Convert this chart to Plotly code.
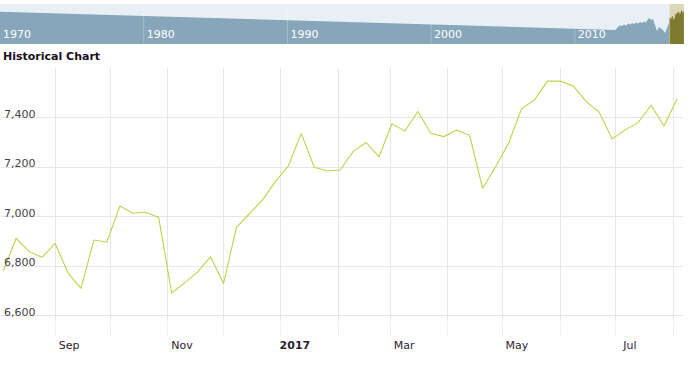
import plotly.graph_objects as go

# ---- main series (weekly closes) ----
week_dates = [
    "2016-08-04", "2016-08-11", "2016-08-18", "2016-08-25",
    "2016-09-01", "2016-09-08", "2016-09-15", "2016-09-22", "2016-09-29",
    "2016-10-06", "2016-10-13", "2016-10-20", "2016-10-27",
    "2016-11-03", "2016-11-10", "2016-11-17", "2016-11-24",
    "2016-12-01", "2016-12-08", "2016-12-15", "2016-12-22", "2016-12-29",
    "2017-01-05", "2017-01-12", "2017-01-19", "2017-01-26",
    "2017-02-02", "2017-02-09", "2017-02-16", "2017-02-23",
    "2017-03-02", "2017-03-09", "2017-03-16", "2017-03-23", "2017-03-30",
    "2017-04-06", "2017-04-13", "2017-04-20", "2017-04-27",
    "2017-05-04", "2017-05-11", "2017-05-18", "2017-05-25",
    "2017-06-01", "2017-06-08", "2017-06-15", "2017-06-22", "2017-06-29",
    "2017-07-06", "2017-07-13", "2017-07-20", "2017-07-27",
    "2017-08-03",
]
week_values = [
    6781, 6913, 6859, 6836,
    6892, 6773, 6711, 6906, 6898,
    7043, 7014, 7018, 6997,
    6692, 6733, 6777, 6838,
    6730, 6957, 7011, 7067, 7141,
    7205, 7337, 7200, 7185,
    7189, 7263, 7300, 7243,
    7376, 7346, 7425, 7337, 7324,
    7350, 7329, 7115, 7202,
    7296, 7436, 7472, 7548,
    7548, 7528, 7465, 7422, 7314,
    7351, 7380, 7451, 7367,
    7476,
]

# ---- navigator history (long-range overview) ----
nav_dates = [
    "1970-01-01", "2012-10-20", "2013-01-03", "2013-02-23", "2013-04-15",
    "2013-06-04", "2013-07-25", "2013-09-14", "2013-11-03", "2013-12-24",
    "2014-02-13", "2014-04-05", "2014-05-26", "2014-07-15", "2014-09-04",
    "2014-10-25", "2014-12-14", "2015-02-03", "2015-03-13", "2015-04-20",
    "2015-06-10", "2015-07-31", "2015-09-20", "2015-11-09", "2015-12-30",
    "2016-02-19", "2016-04-11", "2016-06-01", "2016-07-21",
]
nav_values = [
    7402, 5836, 6093, 6221, 6178,
    6307, 6221, 6392, 6307, 6435,
    6350, 6478, 6392, 6521, 6435,
    6564, 6478, 6778, 6863, 6692,
    6778, 6350, 5750, 6093, 5964,
    5836, 5579, 6093, 6435,
]

# ---- axis ticks ----
month_ticks = [
    "2016-09-01", "2016-10-01", "2016-11-01", "2016-12-01", "2017-01-01",
    "2017-02-01", "2017-03-01", "2017-04-01", "2017-05-01", "2017-06-01",
    "2017-07-01", "2017-08-01",
]
month_labels = ["Sep", "", "Nov", "", "<b>2017</b>", "", "Mar", "", "May", "", "Jul", ""]
y_ticks = [6600, 6800, 7000, 7200, 7400, 7600]
y_labels = ["6,600", "6,800", "7,000", "7,200", "7,400", ""]
decade_ticks = ["1970-01-01", "1980-01-01", "1990-01-01", "2000-01-01", "2010-01-01"]
decade_labels = ["1970", "1980", "1990", "2000", "2010"]

W, H = 697, 374
FONT = "DejaVu Sans"

fig = go.Figure()

# navigator traces
fig.add_trace(go.Scatter(
    x=nav_dates, y=nav_values, mode="lines", line=dict(width=0, color="#87a6ba"),
    fill="tozeroy", fillcolor="#87a6ba", xaxis="x2", yaxis="y2",
    hoverinfo="skip", showlegend=False,
))
fig.add_trace(go.Scatter(
    x=week_dates, y=week_values, mode="lines", line=dict(width=0, color="#7e7a2e"),
    fill="tozeroy", fillcolor="#7e7a2e", xaxis="x2", yaxis="y2",
    hoverinfo="skip", showlegend=False,
))

# main line
fig.add_trace(go.Scatter(
    x=week_dates, y=week_values, mode="lines",
    line=dict(width=1.1, color="#bdd34a"), showlegend=False,
))

shapes = [
    # navigator background
    dict(type="rect", xref="x2 domain", yref="y2 domain", x0=0, x1=1, y0=0, y1=1,
         fillcolor="#e8f0f6", line=dict(width=0), layer="below"),
    # selected range highlight
    dict(type="rect", xref="x2", yref="y2 domain", x0=week_dates[0], x1=week_dates[-1],
         y0=0, y1=1, fillcolor="#dcd7b6", line=dict(width=0), layer="below"),
]
for d in decade_ticks[1:]:
    shapes.append(dict(type="line", xref="x2", yref="y2 domain", x0=d, x1=d, y0=0, y1=1,
                       line=dict(color="rgba(255,255,255,0.25)", width=1), layer="above"))

fig.update_layout(
    width=W, height=H,
    margin=dict(l=0, r=0, t=0, b=0),
    paper_bgcolor="white", plot_bgcolor="white",
    font=dict(family=FONT, size=11, color="#333"),
    xaxis=dict(
        type="date", domain=[1 / W, 683 / W],
        range=["2016-08-02 19:00", "2017-08-06 06:00"],
        tickmode="array", tickvals=month_ticks, ticktext=month_labels,
        showgrid=True, gridcolor="#e6e6e6", gridwidth=1,
        ticks="outside", ticklen=14, tickcolor="#efefef",
        ticklabelshift=14, tickfont=dict(family=FONT, size=11, color="#2e2233"),
        showline=False, zeroline=False, anchor="y",
    ),
    yaxis=dict(
        domain=[1 - 321.2 / H, 1 - 68 / H], range=[6578, 7601],
        tickmode="array", tickvals=y_ticks, ticktext=y_labels,
        showgrid=True, gridcolor="#e6e6e6", gridwidth=1,
        ticklabelposition="inside", ticklabelshift=-4,
        tickfont=dict(family=FONT, size=11, color="#444"),
        showline=False, zeroline=False, anchor="x",
    ),
    xaxis2=dict(
        type="date", domain=[0, 684 / W], range=["1970-01-01", "2017-08-06"],
        tickmode="array", tickvals=decade_ticks, ticktext=decade_labels,
        showgrid=False, ticks="", ticklabelposition="inside right",
        ticklabelshift=3, ticklabelstandoff=-2,
        tickfont=dict(family=FONT, size=11, color="white"),
        showline=False, zeroline=False, anchor="y2",
    ),
    yaxis2=dict(
        domain=[1 - 44 / H, 1 - 4 / H], range=[4638, 8062],
        showgrid=False, showticklabels=False, zeroline=False, showline=False,
        anchor="x2", fixedrange=True,
    ),
    shapes=shapes,
    annotations=[dict(
        text="<b>Historical Chart</b>", xref="paper", yref="paper",
        x=1 / W, y=1 - 57 / H, xanchor="left", yanchor="middle", showarrow=False,
        font=dict(family=FONT, size=11, color="#1a0f1a"),
    )],
)

fig.write_html("out.html", config={"displayModeBar": False},
               post_script="document.body.style.margin='0px';")
